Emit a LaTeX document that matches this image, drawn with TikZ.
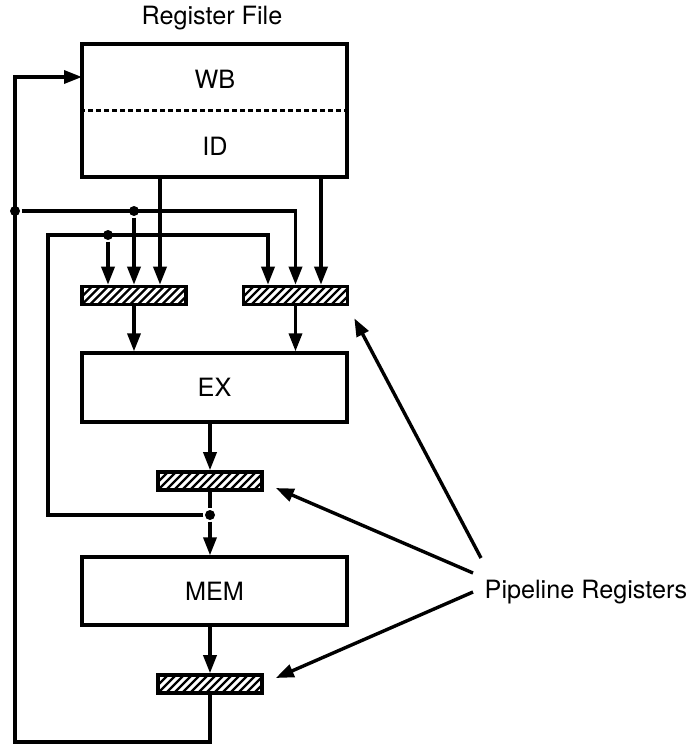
\documentclass[tikz,border=0pt]{standalone}
\usepackage{fontspec}
\setmainfont{TeX Gyre Heros}
\usetikzlibrary{arrows.meta}

\tikzset{
  stage/.style={draw, line width=1.6pt, minimum width=132.5pt, inner sep=0pt},
  pipereg/.style={draw, line width=1.8pt, fill=white, minimum width=52pt,
    minimum height=9pt, inner sep=0pt,
    path picture={\foreach \k in {-3,...,13}
      \draw[line width=1.2pt] ([xshift=\k*4pt]path picture bounding box.south west) -- ++(9pt,9pt);}},
  arr/.style={-{Triangle[length=9pt,width=6.5pt]}},
  junction/.style={circle, fill, inner sep=0pt, minimum size=5pt},
  lbl/.style={font=\fontsize{12.6}{15}\selectfont}
}

\begin{document}
\begin{tikzpicture}[x=0.5pt,y=-0.5pt,line width=1.7pt]
  \useasboundingbox (0,0) rectangle (692,744);

  % register file
  \node[lbl] (title) at (212,18) {Register File};
  \node[stage, minimum height=66.5pt] (rf) at (214.5,110.5) {};
  \node[lbl] (wb) at (215,79) {WB};
  \node[lbl] (id) at (215,146) {ID};
  \draw[line width=1.1pt, dash pattern=on 2.5pt off 1.5pt] (rf.west) -- (rf.east);

  % stages
  \node[stage, minimum height=34.5pt, lbl] (ex) at (214.5,387.5) {EX};
  \node[stage, minimum height=34pt, lbl] (mem) at (214.5,591) {MEM};

  % pipeline registers
  \node[pipereg] (regA) at (134,295.5) {};
  \node[pipereg] (regB) at (295.5,295.5) {};
  \node[pipereg] (regC) at (210,481) {};
  \node[pipereg] (regD) at (210,684) {};

  \node[lbl, anchor=west, inner sep=0pt] (pl) at (483,592) {Pipeline Registers};

  % junctions and corners
  \coordinate (wbin) at (82,77);
  \coordinate (fbL) at (15,742);
  \coordinate (fwd) at (48,235);
  \coordinate (rfa) at (160,177);
  \coordinate (rfb) at (321,177);
  \node[junction] (j1) at (15,211) {};
  \node[junction] (j2) at (134,211) {};
  \node[junction] (j3) at (210,515) {};
  \node[junction] (j4) at (108,235) {};

  % write back
  \draw[arr] (regD.south) |- (fbL) |- (wbin);
  \draw[arr] (j1) -| (regB.north);
  \draw[arr] (j2) -- (regA.north);

  % forwarding from MEM stage
  \draw[arr] (j3) -| (fwd) -| ([xshift=-13.75pt]regB.north);
  \draw[arr] (j4) -- (j4 |- regA.north);

  % register file outputs
  \draw[arr] (rfa) -- (rfa |- regA.north);
  \draw[arr] (rfb) -- (rfb |- regB.north);

  % main flow
  \draw[arr] (regA.south) -- (regA.south |- ex.north);
  \draw[arr] (regB.south) -- (regB.south |- ex.north);
  \draw[arr] (regC |- ex.south) -- (regC.north);
  \draw (regC.south) -- (j3);
  \draw[arr] (j3) -- (j3 |- mem.north);
  \draw[arr] (regD |- mem.south) -- (regD.north);

  % label arrows
  \draw[arr] ([xshift=-1pt,yshift=17pt]pl.west) -- ([xshift=2.5pt,yshift=-6pt]regB.south east);
  \draw[arr] ([xshift=-5pt,yshift=9.5pt]pl.west) -- ([xshift=6pt,yshift=-3.5pt]regC.east);
  \draw[arr] ([xshift=-5pt]pl.west) -- ([xshift=6pt,yshift=3pt]regD.east);
\end{tikzpicture}
\end{document}
